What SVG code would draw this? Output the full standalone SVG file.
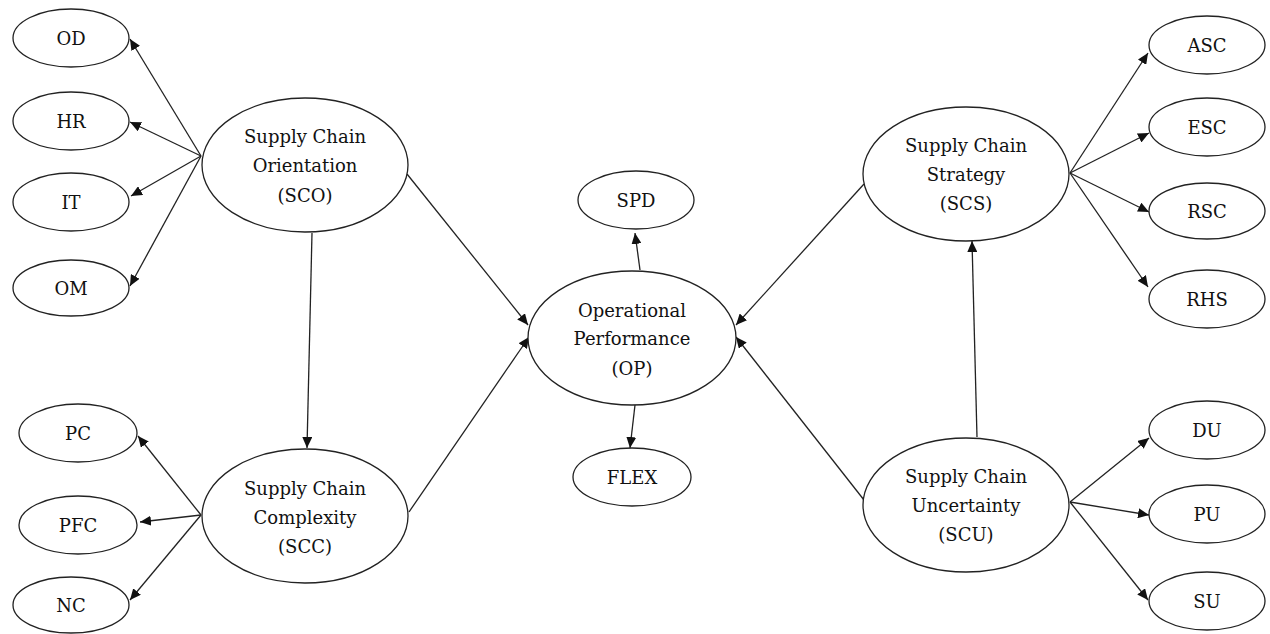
<svg xmlns="http://www.w3.org/2000/svg" width="1270" height="634" viewBox="0 0 1270 634">
<style>
  .n ellipse { fill: #fff; stroke: #222; stroke-width: 1.3; }
  .n text { font-family: "DejaVu Serif", serif; font-size: 18px; fill: #111; text-anchor: middle; }
  #edges line { stroke: #222; stroke-width: 1.3; marker-end: url(#arr); }
</style>
<defs>
  <marker id="arr" markerUnits="userSpaceOnUse" markerWidth="12" markerHeight="10" refX="11" refY="5" orient="auto">
    <path d="M0,0 L11,5 L0,10 Z" fill="#111"/>
  </marker>
</defs>
<rect width="1270" height="634" fill="#fff"/>
<g id="edges">
  <line x1="201" y1="156" x2="130" y2="39"/>
  <line x1="201" y1="156" x2="130" y2="122"/>
  <line x1="201" y1="156" x2="131" y2="196"/>
  <line x1="201" y1="156" x2="130" y2="286"/>
  <line x1="312" y1="233" x2="307" y2="448"/>
  <line x1="201" y1="515" x2="138" y2="436"/>
  <line x1="201" y1="515" x2="140" y2="522"/>
  <line x1="201" y1="515" x2="130" y2="600"/>
  <line x1="407" y1="174" x2="528" y2="325"/>
  <line x1="409" y1="512" x2="529" y2="337"/>
  <line x1="640" y1="270" x2="635" y2="233"/>
  <line x1="635" y1="405" x2="630" y2="448"/>
  <line x1="864" y1="184" x2="736" y2="325"/>
  <line x1="864" y1="500" x2="736" y2="337"/>
  <line x1="977" y1="437" x2="972" y2="241"/>
  <line x1="1070" y1="173" x2="1148" y2="53"/>
  <line x1="1070" y1="173" x2="1149" y2="133"/>
  <line x1="1070" y1="173" x2="1149" y2="212"/>
  <line x1="1070" y1="173" x2="1148" y2="287"/>
  <line x1="1070" y1="502" x2="1149" y2="438"/>
  <line x1="1070" y1="502" x2="1149" y2="515"/>
  <line x1="1070" y1="502" x2="1148" y2="600"/>
</g>
<g id="OD" class="n"><ellipse cx="71" cy="38" rx="58" ry="29"/><text x="71" y="45">OD</text></g>
<g id="HR" class="n"><ellipse cx="71" cy="121" rx="58" ry="29"/><text x="71" y="128">HR</text></g>
<g id="IT" class="n"><ellipse cx="71" cy="202" rx="58" ry="29"/><text x="71" y="209">IT</text></g>
<g id="OM" class="n"><ellipse cx="71" cy="288" rx="58" ry="28"/><text x="71" y="295">OM</text></g>
<g id="SCO" class="n"><ellipse cx="305" cy="165" rx="103" ry="67"/><text x="305" y="143">Supply Chain</text><text x="305" y="172">Orientation</text><text x="305" y="202">(SCO)</text></g>
<g id="PC" class="n"><ellipse cx="78" cy="433" rx="59" ry="29"/><text x="78" y="440">PC</text></g>
<g id="PFC" class="n"><ellipse cx="78" cy="525" rx="59" ry="29"/><text x="78" y="532">PFC</text></g>
<g id="NC" class="n"><ellipse cx="71" cy="605" rx="58" ry="28"/><text x="71" y="612">NC</text></g>
<g id="SCC" class="n"><ellipse cx="305" cy="516" rx="103" ry="67"/><text x="305" y="495">Supply Chain</text><text x="305" y="524">Complexity</text><text x="305" y="553">(SCC)</text></g>
<g id="SPD" class="n"><ellipse cx="636" cy="200" rx="58" ry="29"/><text x="636" y="207">SPD</text></g>
<g id="OP" class="n"><ellipse cx="632" cy="338" rx="104" ry="67"/><text x="632" y="317">Operational</text><text x="632" y="345">Performance</text><text x="632" y="375">(OP)</text></g>
<g id="FLEX" class="n"><ellipse cx="632" cy="477" rx="59" ry="29"/><text x="632" y="484">FLEX</text></g>
<g id="SCS" class="n"><ellipse cx="966" cy="174" rx="103" ry="67"/><text x="966" y="152">Supply Chain</text><text x="966" y="181">Strategy</text><text x="966" y="210">(SCS)</text></g>
<g id="SCU" class="n"><ellipse cx="966" cy="505" rx="103" ry="67"/><text x="966" y="483">Supply Chain</text><text x="966" y="512">Uncertainty</text><text x="966" y="541">(SCU)</text></g>
<g id="ASC" class="n"><ellipse cx="1207" cy="45" rx="58" ry="29"/><text x="1207" y="52">ASC</text></g>
<g id="ESC" class="n"><ellipse cx="1207" cy="127" rx="58" ry="29"/><text x="1207" y="134">ESC</text></g>
<g id="RSC" class="n"><ellipse cx="1207" cy="211" rx="58" ry="28"/><text x="1207" y="218">RSC</text></g>
<g id="RHS" class="n"><ellipse cx="1207" cy="299" rx="58" ry="29"/><text x="1207" y="306">RHS</text></g>
<g id="DU" class="n"><ellipse cx="1207" cy="430" rx="58" ry="29"/><text x="1207" y="437">DU</text></g>
<g id="PU" class="n"><ellipse cx="1207" cy="514" rx="58" ry="29"/><text x="1207" y="521">PU</text></g>
<g id="SU" class="n"><ellipse cx="1207" cy="601" rx="58" ry="29"/><text x="1207" y="608">SU</text></g>
</svg>
